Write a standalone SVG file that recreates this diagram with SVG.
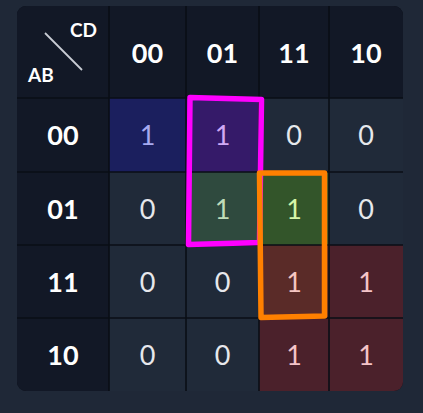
<svg xmlns="http://www.w3.org/2000/svg" width="423" height="413" viewBox="0 0 423 413">
  <style>
    .hdr { fill: #121826; }
    .z { fill: #202a39; }
    .h { font-family: Lato, "Noto Sans", sans-serif; font-weight: 700; font-size: 27px; fill: #ffffff; text-anchor: middle; }
    .d { font-family: Lato, "Noto Sans", sans-serif; font-weight: 400; font-size: 27px; text-anchor: middle; }
    .grid { stroke: #0a0e16; stroke-width: 1.6; fill: none; }
    .small { font-family: Lato, "Noto Sans", sans-serif; font-weight: 700; font-size: 19px; fill: #ffffff; }
  </style>
  <defs>
    <clipPath id="tbl"><rect x="17" y="6" width="386" height="385" rx="9"/></clipPath>
  </defs>
  <rect width="423" height="413" fill="#1f2837"/>
  <g id="table" clip-path="url(#tbl)">
    <rect x="17" y="6" width="386" height="385" fill="#0b0f17"/>
    <!-- header row & column -->
    <rect class="hdr" x="17" y="6" width="386" height="92"/>
    <rect class="hdr" x="17" y="6" width="92" height="385"/>
    <!-- row 00 -->
    <rect x="109" y="98" width="77" height="74" fill="#1b1f5e"/>
    <rect x="186" y="98" width="73" height="74" fill="#351a69"/>
    <rect class="z" x="259" y="98" width="70" height="74"/>
    <rect class="z" x="329" y="98" width="74" height="74"/>
    <!-- row 01 -->
    <rect class="z" x="109" y="172" width="77" height="73"/>
    <rect x="186" y="172" width="73" height="73" fill="#2f4a3e"/>
    <rect x="259" y="172" width="70" height="73" fill="#33552a"/>
    <rect class="z" x="329" y="172" width="74" height="73"/>
    <!-- row 11 -->
    <rect class="z" x="109" y="245" width="77" height="73"/>
    <rect class="z" x="186" y="245" width="73" height="73"/>
    <rect x="259" y="245" width="70" height="73" fill="#5a2b28"/>
    <rect x="329" y="245" width="74" height="73" fill="#4b212b"/>
    <!-- row 10 -->
    <rect class="z" x="109" y="318" width="77" height="73"/>
    <rect class="z" x="186" y="318" width="73" height="73"/>
    <rect x="259" y="318" width="70" height="73" fill="#4b212b"/>
    <rect x="329" y="318" width="74" height="73" fill="#4b212b"/>
    <path class="grid" d="M109 6V391M186 6V391M259 6V391M329 6V391M17 98H403M17 172H403M17 245H403M17 318H403"/>
  </g>
  <g id="corner">
    <line x1="45" y1="33" x2="82" y2="70" stroke="#c9cdd4" stroke-width="1.8"/>
    <text class="small" x="70" y="37">CD</text>
    <text class="small" x="28" y="82">AB</text>
  </g>
  <g id="col-headers">
    <text class="h" x="147.5" y="63">00</text>
    <text class="h" x="222.5" y="63">01</text>
    <text class="h" x="294" y="63">11</text>
    <text class="h" x="366" y="63">10</text>
  </g>
  <g id="row-headers">
    <text class="h" x="63" y="145">00</text>
    <text class="h" x="63" y="218.5">01</text>
    <text class="h" x="63" y="291.5">11</text>
    <text class="h" x="63" y="364.5">10</text>
  </g>
  <g id="cells">
    <text class="d" x="147.5" y="145" fill="#a7aaf0">1</text>
    <text class="d" x="222.5" y="145" fill="#d0a9f5">1</text>
    <text class="d" x="294" y="145" fill="#e6e8ec">0</text>
    <text class="d" x="366" y="145" fill="#e6e8ec">0</text>
    <text class="d" x="147.5" y="218.5" fill="#e6e8ec">0</text>
    <text class="d" x="222.5" y="218.5" fill="#bfdcb8">1</text>
    <text class="d" x="294" y="218.5" fill="#d6f5a8">1</text>
    <text class="d" x="366" y="218.5" fill="#e6e8ec">0</text>
    <text class="d" x="147.5" y="291.5" fill="#e6e8ec">0</text>
    <text class="d" x="222.5" y="291.5" fill="#e6e8ec">0</text>
    <text class="d" x="294" y="291.5" fill="#f5c6c2">1</text>
    <text class="d" x="366" y="291.5" fill="#f5c4c8">1</text>
    <text class="d" x="147.5" y="364.5" fill="#e6e8ec">0</text>
    <text class="d" x="222.5" y="364.5" fill="#e6e8ec">0</text>
    <text class="d" x="294" y="364.5" fill="#f5c4c8">1</text>
    <text class="d" x="366" y="364.5" fill="#f5c4c8">1</text>
  </g>
  <g id="groups" fill="none" stroke-width="5.5" stroke-linejoin="round">
    <polygon id="group-magenta" points="190,97.5 261.5,99.5 259.5,242.5 188.5,244.5" stroke="#ff00ff"/>
    <polygon id="group-orange" points="259.5,173 324.5,173 324.5,316 261,317.5" stroke="#ff8000"/>
  </g>
</svg>
